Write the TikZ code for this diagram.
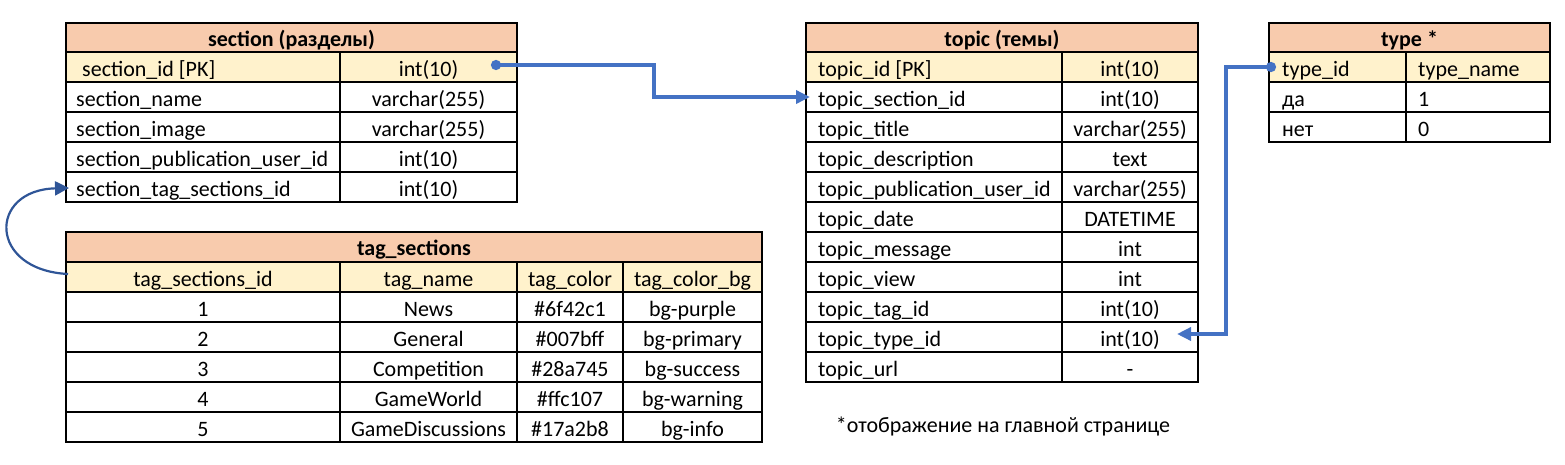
\documentclass[tikz,border=0pt]{standalone}
\usepackage{fontspec}
\setmainfont{Carlito}
\usetikzlibrary{arrows.meta}

\definecolor{hdrfill}{HTML}{F8CBAD}
\definecolor{keyfill}{HTML}{FFF2CC}
\definecolor{linkblue}{HTML}{4472C4}
\definecolor{curveblue}{HTML}{2F5597}
\newcommand\cellsize{\fontsize{22}{26}\selectfont}

\tikzset{
  grid line/.style={line width=1.4pt,black},
  lcell/.style={anchor=base west,inner sep=0pt,font=\cellsize},
  ccell/.style={anchor=base,inner sep=0pt,font=\cellsize},
  hcell/.style={anchor=base,inner sep=0pt,font=\cellsize\bfseries},
  link/.style={line width=3.4pt,linkblue,{Circle[length=10pt]}-{Triangle[length=14pt,width=13pt]}},
  selflink/.style={line width=2.2pt,curveblue,-{Triangle[length=14pt,width=14pt]}}
}

\begin{document}
\begin{tikzpicture}[x=1pt,y=-1pt]
\useasboundingbox (0,0) rectangle (1565,464);

% section
\fill[hdrfill] (66,23) rectangle (517,52);
\fill[keyfill] (66,52) rectangle (517,82);
\draw[grid line] (66,23) rectangle (517,202);
\foreach \y in {52,82,...,172} \draw[grid line] (66,\y) -- (517,\y);
\draw[grid line] (340,52) -- (340,202);
\node[hcell] (section) at (291.5,46) {section (разделы)};
\node[lcell] (section-0) at (82,76) {section\_id [PK]};
\node[ccell] at (428.5,76) {int(10)};
\foreach \f/\t [count=\i] in {section\_name/varchar(255),section\_image/varchar(255),
    section\_publication\_user\_id/int(10),section\_tag\_sections\_id/int(10)} {
  \node[lcell] (section-\i) at (76,{76+30*\i}) {\f};
  \node[ccell] at (428.5,{76+30*\i}) {\t};
}

% topic
\fill[hdrfill] (806,23) rectangle (1198,52);
\fill[keyfill] (806,52) rectangle (1198,82);
\draw[grid line] (806,23) rectangle (1198,382);
\foreach \y in {52,82,...,352} \draw[grid line] (806,\y) -- (1198,\y);
\draw[grid line] (1062,52) -- (1062,382);
\node[hcell] (topic) at (1002,46) {topic (темы)};
\foreach \f/\t [count=\i from 0] in {topic\_id [PK]/int(10),topic\_section\_id/int(10),
    topic\_title/varchar(255),topic\_description/text,topic\_publication\_user\_id/varchar(255),
    topic\_date/DATETIME,topic\_message/int,topic\_view/int,topic\_tag\_id/int(10),
    topic\_type\_id/int(10),topic\_url/-} {
  \node[lcell] (topic-\i) at (818,{76+30*\i}) {\f};
  \node[ccell] at (1130,{76+30*\i}) {\t};
}

% type
\fill[hdrfill] (1269,23) rectangle (1550,52);
\fill[keyfill] (1269,52) rectangle (1550,82);
\draw[grid line] (1269,23) rectangle (1550,142);
\foreach \y in {52,82,112} \draw[grid line] (1269,\y) -- (1550,\y);
\draw[grid line] (1406,52) -- (1406,142);
\node[hcell] (type) at (1409.5,46) {type *};
\foreach \f/\t [count=\i from 0] in {type\_id/type\_name,да/1,нет/0} {
  \node[lcell] (type-\i) at (1282,{76+30*\i}) {\f};
  \node[lcell] at (1418,{76+30*\i}) {\t};
}

% tag_sections
\fill[hdrfill] (66,232) rectangle (762,262);
\fill[keyfill] (66,262) rectangle (762,292);
\draw[grid line] (66,232) rectangle (762,442);
\foreach \y in {262,292,...,412} \draw[grid line] (66,\y) -- (762,\y);
\foreach \x in {340,517,623} \draw[grid line] (\x,262) -- (\x,442);
\node[hcell] (tags) at (414,255) {tag\_sections};
\foreach \a/\b/\c/\d [count=\i from 0] in {tag\_sections\_id/tag\_name/tag\_color/tag\_color\_bg,
    1/News/\#6f42c1/bg-purple,2/General/\#007bff/bg-primary,3/Competition/\#28a745/bg-success,
    4/GameWorld/\#ffc107/bg-warning,5/GameDiscussions/\#17a2b8/bg-info} {
  \node[ccell] (tags-\i) at (203,{286+30*\i}) {\a};
  \node[ccell] at (428.5,{286+30*\i}) {\b};
  \node[ccell] at (570,{286+30*\i}) {\c};
  \node[ccell] at (692.5,{286+30*\i}) {\d};
}

\node[ccell] (note) at (1003,432) {*отображение на главной странице};

% links
\coordinate (section-out) at (491,65);
\coordinate (topic-in) at (810,97);
\draw[link] (section-out) -- ++(163,0) |- (topic-in);
\coordinate (type-out) at (1276,67);
\coordinate (topic-type-in) at (1177,334);
\draw[link] (type-out) -- ++(-50,0) |- (topic-type-in);
\coordinate (tags-out) at (68,274);
\coordinate (section-tag-in) at (69,188);
\draw[selflink] (tags-out) .. controls (-12,270) and (-12,190) .. (section-tag-in);
\end{tikzpicture}
\end{document}
